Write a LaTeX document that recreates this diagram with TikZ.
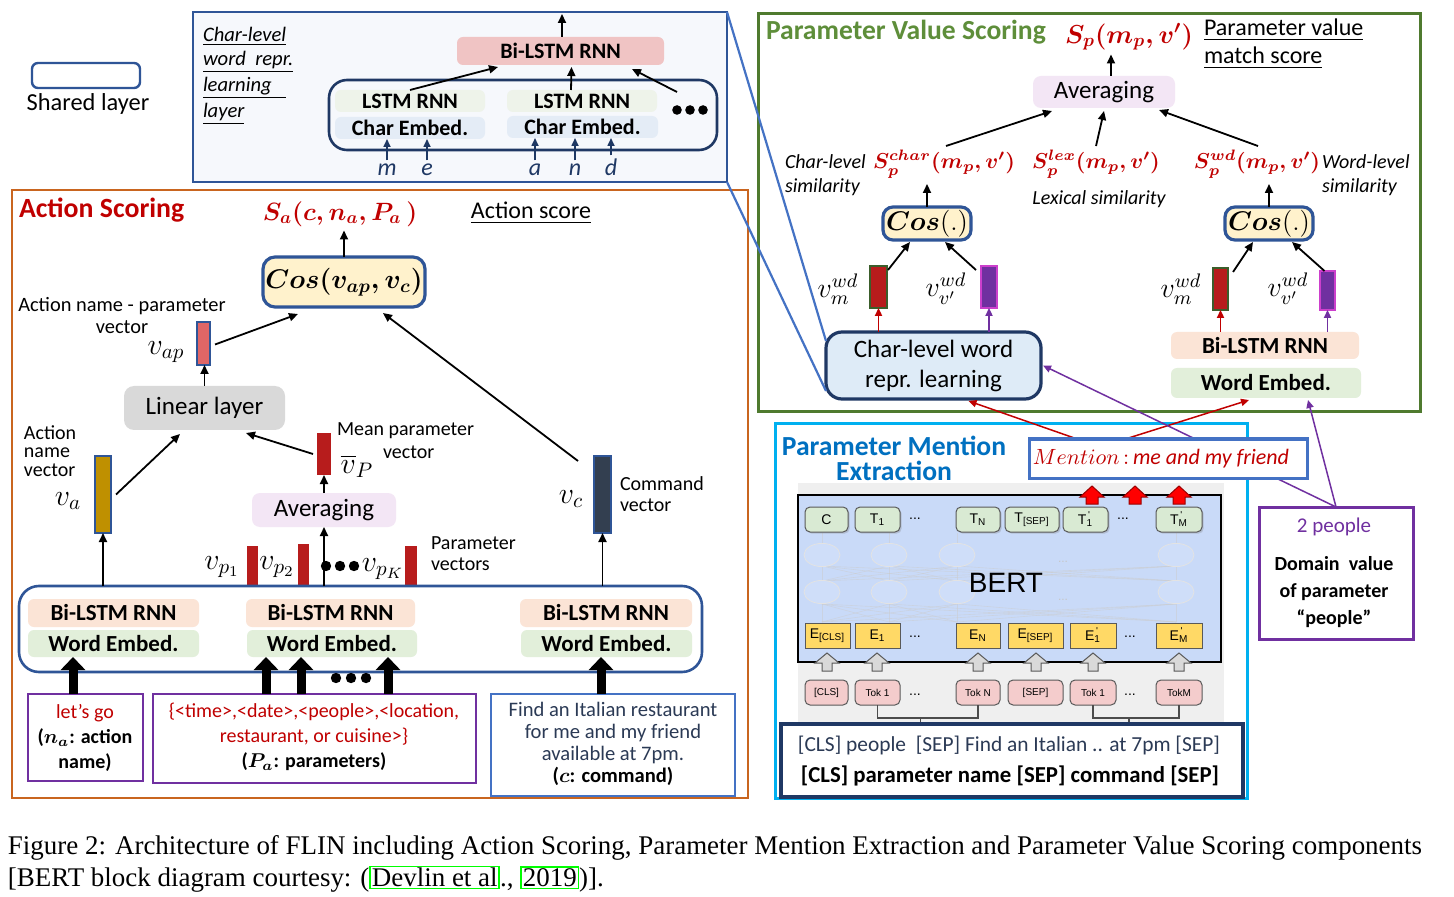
\RequirePackage{fix-cm}
\documentclass[tikz,border=0pt]{standalone}
\usepackage{amsmath}
\usepackage{graphicx}
\usepackage{fontspec}
\setmainfont{Carlito}
\newfontfamily\capfont{Liberation Serif}
\newfontfamily\arialf{Liberation Sans}
\usetikzlibrary{arrows.meta,calc,shadows}
\newcommand\fsz[2]{\fontsize{#1}{#2}\selectfont}
\newcommand\bx[7]{\node[inner sep=0pt,minimum width={(#5-#3)*0.5pt},minimum height={(#6-#4)*0.5pt},#2] (#1) at ({(#3+#5)/2},{(#4+#6)/2}) {#7};}
\definecolor{navy}{HTML}{2F5597}
\definecolor{borderdk}{HTML}{1F3864}
\definecolor{orng}{HTML}{C9651F}
\definecolor{grn}{HTML}{4F7A2F}
\definecolor{grntxt}{HTML}{5E8E3A}
\definecolor{grndk}{HTML}{3B5E2B}
\definecolor{redt}{HTML}{C00000}
\definecolor{cyanb}{HTML}{00B0F0}
\definecolor{bluet}{HTML}{0070C0}
\definecolor{purp}{HTML}{7030A0}
\definecolor{blueb}{HTML}{4472C4}
\definecolor{pinkf}{HTML}{F0C4C4}
\definecolor{lstmf}{HTML}{EEF3EA}
\definecolor{charf}{HTML}{E4ECF6}
\definecolor{peachf}{HTML}{FBE4D6}
\definecolor{wordf}{HTML}{E2EFDA}
\definecolor{lavf}{HTML}{F3E6F5}
\definecolor{grayf}{HTML}{D9D9D9}
\definecolor{yellowf}{HTML}{FFF2CC}
\definecolor{lbluef}{HTML}{DEEBF7}
\definecolor{bertf}{HTML}{C9DAF8}
\definecolor{bertbg}{HTML}{EFEFEF}
\definecolor{tokg}{HTML}{D9EAD3}
\definecolor{toky}{HTML}{FFD966}
\definecolor{tokp}{HTML}{F4CCCC}
\definecolor{goldf}{HTML}{BF9000}
\definecolor{salmon}{HTML}{E06666}
\definecolor{barred}{HTML}{B71C1C}
\definecolor{cmdf}{HTML}{333F50}
\definecolor{magb}{HTML}{CC3FCC}
\definecolor{linkgreen}{HTML}{00FF00}
\definecolor{cmdtxt}{HTML}{2B3A55}
\definecolor{boxbg}{HTML}{F6F8FC}
\tikzset{
 lyr/.style={rounded corners=3pt,font=\bfseries\fsz{11.5}{12}},
 bilstm/.style={lyr,fill=peachf},
 wemb/.style={lyr,fill=wordf},
 lstmbox/.style={lyr,fill=lstmf,font=\bfseries\fsz{11}{12}},
 cemb/.style={lyr,fill=charf,font=\bfseries\fsz{11}{12}},
 cosbox/.style={fill=yellowf,draw=navy,line width=1.6pt,rounded corners=6pt,font=\fsz{13.5}{15}},
 avgbox/.style={fill=lavf,rounded corners=4pt,font=\fsz{12.5}{14}},
 vlab/.style={font=\fsz{15}{16}},
 wlab/.style={font=\fsz{14}{15}},
 slab/.style={text=redt,font=\fsz{10.8}{14}},
 smalltxt/.style={font=\fsz{10}{11}},
 redbar/.style={fill=barred},
 vecbar/.style={draw=navy,line width=1pt},
 arr/.style={-{Triangle[length=4.5pt,width=4pt]},line width=0.9pt},
 carr/.style={-{Triangle[length=4pt,width=3.5pt]},line width=0.8pt,draw=borderdk,shorten <=2pt},
 rarr/.style={-{Triangle[length=4pt,width=3.6pt]},line width=0.75pt,draw=redt},
 parr/.style={-{Triangle[length=4pt,width=3.6pt]},line width=0.75pt,draw=purp},
 fatarr/.style={line width=4.5pt,-{Triangle[length=6.5pt,width=12pt]}},
 tok/.style={rounded corners=2.5pt,draw=gray!70!black,line width=0.5pt,font=\arialf\fsz{7}{8}},
 tokg/.style={tok,fill=tokg,drop shadow={opacity=0.3,shadow xshift=0.8pt,shadow yshift=-0.8pt}},
 toke/.style={tok,fill=toky,rounded corners=0pt},
 tokk/.style={tok,fill=tokp,font=\arialf\fsz{5}{6}},
 ghost/.style={draw=gray!22,line width=0.4pt,fill=bertf!88!white},
 ghostline/.style={draw=gray!40,line width=0.3pt,opacity=0.5},
 inbox/.style={draw=purp,line width=1.3pt},
 brk/.style={draw=gray!60!black,line width=0.6pt},
}
\setlength\fboxsep{0.4pt}
\setlength\fboxrule{0.8pt}
\newlength\capw
\begin{document}
\settowidth\capw{\capfont\fsz{13}{15}Figure 2: Architecture of FLIN including Action Scoring, Parameter Mention Extraction and Parameter Value Scoring components}%
\pgfmathsetmacro\capsc{707/\capw}%
\begin{tikzpicture}[x=0.5pt,y=-0.5pt,every node/.style={inner sep=0pt,outer sep=0pt}]
\fill[white] (0,0) rectangle (1454,897);
\useasboundingbox (0,0) rectangle (1454,897);

% ---------- legend
\bx{leg}{draw=navy,line width=1.2pt,rounded corners=3pt}{32}{63}{140}{88}{}
\node[font=\fsz{12.2}{13}] (legt) at (88,104) {Shared layer};

% ---------- action scoring
\bx{asbox}{draw=orng,line width=1.2pt}{12}{190}{748}{798}{}
\node[anchor=west,text=redt,font=\bfseries\fsz{13.9}{15}] (astitle) at (19,210) {Action Scoring};
\node[text=redt,font=\fsz{12.5}{15}] (sa) at (340,214) {$\boldsymbol{S_a(c,n_a,P_a\,)}$};
\node[font=\fsz{12}{14}] (ascore) at (531,213) {\underline{Action score}};
\bx{cosa}{cosbox}{263}{257}{425}{307}{$\boldsymbol{Cos(v_{ap},v_c)}$}
\draw[arr,shorten >=2pt] (cosa.north) -- (cosa.north |- sa.south);

\node[smalltxt,align=center,font=\fsz{10.2}{11}] (anpv) at (122,316) {Action name - parameter\\vector};
\node[vlab] (lvap) at (166,352) {$v_{ap}$};
\bx{bvap}{vecbar,fill=salmon}{197}{322}{210}{365}{}
\draw[arr] ($(bvap.east)+(5,1)$) -- ($(cosa.south west)+(35,7)$);
\bx{lin}{fill=grayf,rounded corners=5pt,font=\fsz{12.5}{14}}{124}{386}{285}{430}{Linear layer}
\draw[arr] (lin.north) -- (lin.north |- bvap.south);

\node[anchor=west,align=left,font=\fsz{10}{9.3}] (anv) at (24,451) {Action\\name\\vector};
\node[vlab] (lva) at (68,501) {$v_a$};
\bx{bva}{vecbar,fill=goldf}{95}{456}{111}{533}{}
\draw[arr] ($(bva.east)+(5,0)$) -- ($(lin.south west)+(56,4)$);

\bx{bmean}{redbar}{317}{433}{331}{475}{}
\node[anchor=west,smalltxt] (mp1) at (337,431) {Mean parameter};
\node[anchor=west,smalltxt] (mp2) at (383,452) {vector};
\node[vlab] (lvp) at (357,466) {$\overline{v}_P$};
\draw[arr] ($(bmean.west)+(-4,0)$) -- ($(lin.south east)+(-39,3)$);

\bx{avga}{avgbox}{252}{493}{396}{527}{Averaging}
\draw[arr] (avga.north) -- (avga.north |- bmean.south);

\bx{bpa}{redbar}{247}{546}{258}{587}{}
\bx{bpb}{redbar}{298}{544}{309}{587}{}
\bx{bpk}{redbar}{405}{546}{417}{587}{}
\node[vlab] (lvp1) at (222,567) {$v_{p_1}$};
\node[vlab] (lvp2) at (277,567) {$v_{p_2}$};
\node[vlab] (lvpk) at (383,569) {$v_{p_K}$};
\node[anchor=west,align=left,font=\fsz{10}{10.5}] (pvt) at (431,554) {Parameter\\vectors};

\bx{bcmd}{vecbar,fill=cmdf}{594}{456}{611}{533}{}
\node[vlab] (lvc) at (571,499) {$v_c$};
\node[anchor=west,align=left,font=\fsz{10}{10.5}] (cvt) at (620,494) {Command\\vector};
\draw[arr] ($(bcmd.north west)+(-16,5)$) -- ($(cosa.south east)+(-42,6)$);

% shared encoder
\bx{shb}{draw=navy,line width=1.3pt,rounded corners=10pt}{19}{586}{702}{672}{}
\bx{bla}{bilstm}{28}{599}{199}{627}{Bi-LSTM RNN}
\bx{wea}{wemb}{28}{630}{199}{657}{Word Embed.}
\bx{blb}{bilstm}{246}{599}{415}{627}{Bi-LSTM RNN}
\bx{web}{wemb}{247}{630}{417}{657}{Word Embed.}
\bx{blc}{bilstm}{520}{599}{692}{627}{Bi-LSTM RNN}
\bx{wec}{wemb}{521}{630}{692}{657}{Word Embed.}
\draw[arr] (shb.north -| bva.south) -- (bva.south);
\draw[arr] (shb.north -| bcmd.south) -- (bcmd.south);
\draw[arr] (shb.north -| avga.south) -- (avga.south);
\coordinate (pdots) at (340,566);
\foreach \d in {-14,0,14} \fill ($(pdots)+(\d,0)$) circle (2.6pt);

% inputs
\bx{inpa}{inbox}{28}{694}{143}{781}{}
\bx{inpb}{inbox}{153}{694}{476}{783}{}
\bx{inpc}{draw=blueb,line width=1.3pt}{491}{694}{735}{796}{}
\node[align=center,font=\fsz{10}{12.3}] (ta) at (85,738) {{\color{redt}let’s go}\\\textbf{($\boldsymbol{n_a}$: action}\\\textbf{name)}};
\node[align=center,font=\fsz{10}{12.5}] (tb) at (314,737) {{\color{redt}\{<time>,<date>,<people>,<location,}\\{\color{redt}restaurant, or cuisine>\}}\\\textbf{($\boldsymbol{P_a}$: parameters)}};
\node[align=center,font=\fsz{10.3}{11}] (tc) at (613,744) {{\color{cmdtxt}Find an Italian restaurant}\\{\color{cmdtxt}for me and my friend}\\{\color{cmdtxt}available at 7pm.}\\\textbf{($\boldsymbol{c}$: command)}};
\draw[fatarr] ($(inpa.north)+(-12.5,0)$) -- ($(wea.south)+(-40.5,0)$);
\draw[fatarr] ($(inpb.north)+(-48.5,0)$) -- ($(web.south)+(-66,0)$);
\draw[fatarr] ($(inpb.north)+(-13.5,0)$) -- ($(web.south)+(-31,0)$);
\draw[fatarr] ($(inpb.north)+(73.5,0)$) -- ($(web.south)+(56,0)$);
\draw[fatarr] ($(inpc.north)+(-12,0)$) -- ($(wec.south)+(-5.5,0)$);
\coordinate (fdots) at (351,678);
\foreach \d in {-15,0,15} \fill ($(fdots)+(\d,0)$) circle (2.6pt);

% ---------- parameter value scoring frame
\bx{pvs}{draw=grn,line width=1.5pt}{758}{14}{1420}{412}{}

% ---------- char-level callout lines and box
\bx{cbox}{draw=navy,line width=1.3pt,fill=boxbg}{193}{12}{727}{182}{}
\bx{clw}{fill=lbluef,draw=borderdk,line width=1.6pt,rounded corners=8pt,align=center,font=\fsz{12.5}{15}}{826}{332}{1041}{399}{Char-level word\\repr. learning}
\draw[blueb,line width=1.1pt] (cbox.north east) -- ($(clw.north west)+(0,9)$);
\draw[blueb,line width=1.1pt] (cbox.south east) -- ($(clw.south west)+(0,-8)$);

\node[anchor=west,font=\itshape\fsz{10.3}{11}] (cl1) at (203,36) {\underline{Char-level}};
\node[anchor=west,font=\itshape\fsz{10.3}{11}] (cl2) at (203,62) {\underline{word\ \ repr.}};
\node[anchor=west,font=\itshape\fsz{10.3}{11}] (cl3) at (203,88) {\underline{learning\ \ \ }};
\node[anchor=west,font=\itshape\fsz{10.3}{11}] (cl4) at (203,114) {\underline{layer}};
\bx{tbil}{lyr,fill=pinkf,font=\bfseries\fsz{11}{12}}{457}{37}{664}{65}{Bi-LSTM RNN}
\coordinate (tout) at (562,14);
\draw[arr] (tbil.north -| tout) -- (tout);
\bx{cin}{draw=borderdk,line width=1.3pt,rounded corners=9pt}{329}{80}{717}{150}{}
\bx{lstma}{lstmbox}{335}{90}{485}{112}{LSTM RNN}
\bx{cea}{cemb}{335}{117}{485}{139}{Char Embed.}
\bx{lstmb}{lstmbox}{507}{90}{657}{112}{LSTM RNN}
\bx{ceb}{cemb}{507}{116}{658}{138}{Char Embed.}
\coordinate (tdots) at (690,110);
\foreach \d in {-13,0,13} \fill ($(tdots)+(\d,0)$) circle (2.4pt);
\draw[arr] (lstma.north) -- ($(tbil.south west)+(41,2)$);
\draw[arr] ($(lstmb.north)+(-11,0)$) -- ($(tbil.south)+(11,2)$);
\draw[arr] ($(tdots)+(-13,-18)$) -- ($(tbil.south east)+(-32,4)$);
\foreach \n/\x/\l in {lm/387/m,le/427/e,la/535/a,ln/575/n,ld/611/d}
  \node[font=\itshape\fsz{12}{13},text=borderdk,anchor=base] (\n) at (\x,176) {\l};
\draw[carr] (lm.north |- le.north) -- (lm.north |- cea.south);
\draw[carr] (le.north) -- (le.north |- cea.south);
\draw[carr] (la.north) -- (la.north |- ceb.south);
\draw[carr] (ln.north) -- (ln.north |- ceb.south);
\draw[carr] (ld.north -| ld.base) -- (ld.base |- ceb.south);

% ---------- parameter value scoring content
\node[anchor=west,text=grntxt,font=\bfseries\fsz{13.8}{15}] (pvst) at (766,32) {Parameter Value Scoring};
\node[text=redt,font=\fsz{13}{15}] (sp) at (1129,37) {$\boldsymbol{S_p(m_p,v')}$};
\node[anchor=west,font=\fsz{12}{14}] (pvm1) at (1204,30) {\underline{Parameter value}};
\node[anchor=west,font=\fsz{12}{14}] (pvm2) at (1204,58) {\underline{match score}};
\bx{avgb}{avgbox}{1033}{76}{1175}{108}{Averaging}
\coordinate (avbt) at ($(avgb.north)+(7,0)$);
\draw[arr,shorten >=2pt] (avbt) -- (avbt |- sp.south);
\node[slab] (schar) at (944,164) {$\boldsymbol{S_p^{char}(m_p,v')}$};
\node[slab] (slex) at (1096,164) {$\boldsymbol{S_p^{lex}(m_p,v')}$};
\node[slab] (swd) at (1257,164) {$\boldsymbol{S_p^{wd}(m_p,v')}$};
\draw[arr] ($(schar.north)+(2,-4)$) -- ($(avgb.south west)+(19,3)$);
\draw[arr] ($(slex.north)+(0,-4)$) -- ($(avgb.south)+(0,3)$);
\draw[arr] ($(swd.north)+(1,-4)$) -- ($(avgb.south east)+(-16,2)$);
\node[anchor=west,align=left,font=\itshape\fsz{10}{12}] (cls) at (785,175) {Char-level\\similarity};
\node[font=\itshape\fsz{10}{12}] (lexs) at (1099,199) {Lexical similarity};
\node[anchor=west,align=left,font=\itshape\fsz{10}{12}] (wls) at (1322,175) {Word-level\\similarity};
\bx{cosb}{cosbox,rounded corners=5pt}{883}{207}{971}{240}{$\boldsymbol{Cos}(.)$}
\bx{cosc}{cosbox,rounded corners=5pt}{1225}{207}{1313}{240}{$\boldsymbol{Cos}(.)$}
\draw[arr,shorten >=3pt] (cosb.north) -- (cosb.north |- schar.south);
\draw[arr,shorten >=3pt] (cosc.north) -- (cosc.north |- swd.south);
\bx{rba}{fill=barred,draw=grndk,line width=1pt}{870}{266}{887}{308}{}
\bx{pba}{fill=purp,draw=magb,line width=1pt}{981}{266}{997}{308}{}
\bx{rbb}{fill=barred,draw=grndk,line width=1pt}{1213}{268}{1228}{310}{}
\bx{pbb}{fill=purp,draw=magb,line width=1pt}{1320}{271}{1335}{310}{}
\node[wlab] (lvma) at (838,289) {$v_m^{wd}$};
\node[wlab] (lvva) at (946,289) {$v_{v'}^{wd}$};
\node[wlab] (lvmb) at (1181,289) {$v_m^{wd}$};
\node[wlab] (lvvb) at (1288,289) {$v_{v'}^{wd}$};
\draw[arr] ($(rba.north east)+(1,4)$) -- ($(cosb.south west)+(27,2)$);
\draw[arr] ($(pba.north west)+(-5,4)$) -- ($(cosb.south east)+(-26,2)$);
\draw[arr] ($(rbb.north east)+(5,4)$) -- ($(cosc.south west)+(28,2)$);
\draw[arr] ($(pbb.north)+(-3,0)$) -- ($(cosc.south east)+(-21,2)$);
\draw[rarr] (rba.south |- clw.north) -- (rba.south);
\draw[parr] (pba.south |- clw.north) -- (pba.south);
\bx{blr}{bilstm}{1171}{332}{1359}{359}{Bi-LSTM RNN}
\bx{wer}{wemb}{1171}{368}{1361}{398}{Word Embed.}
\draw[rarr] (rbb.south |- blr.north) -- (rbb.south);
\draw[parr] (pbb.south |- blr.north) -- (pbb.south);

% ---------- parameter mention extraction
\bx{pme}{draw=cyanb,line width=1.5pt}{775}{424}{1247}{798}{}
\node[text=bluet,align=center,font=\bfseries\fsz{13.8}{12.5}] (pmet) at (894,458) {Parameter Mention\\Extraction};
\bx{dom}{draw=purp,line width=1.5pt,fill=white}{1259}{507}{1413}{639}{}
\node[text=purp,font=\fsz{10.5}{12}] (d1) at (1334,527) {2 people};
\node[align=center,font=\bfseries\fsz{10}{13.3}] (d2) at (1334,592) {Domain\ \ value\\of parameter\\“people”};
\coordinate (rap) at (1100,447);
\draw[rarr] (rap) -- ($(clw.south)+(35,2)$);
\draw[rarr] (rap) -- ($(wer.south)+(-17,2)$);
\draw[parr] (dom.north) -- ($(clw.east)+(2,0)$);
\draw[parr] (dom.north) -- ($(wer.south)+(42,2)$);
\bx{men}{fill=white,draw=blueb,line width=1.5pt}{1029}{439}{1307}{478}{}
\node[text=redt,font=\fsz{11}{12}] (ment) at (1161,459) {$Mention\,{:}\,$\textit{me and my friend}};

% BERT block
\bx{bertbgn}{fill=bertbg}{798}{483}{1224}{722}{}
\bx{bert}{fill=bertf,draw=black,line width=1.2pt}{798}{495}{1221}{662}{}
\foreach \a in {822,889,957,1176} \foreach \b in {822,889,957,1176} {
  \draw[ghostline] (\a,581) -- (\b,566);
  \draw[ghostline] (\a,622) -- (\b,604);
}
\foreach \a in {822,889,957,1176} {
  \draw[ghostline] (\a,543) -- (\a,533);
  \draw[ghost] (\a,555) ellipse [x radius=9pt,y radius=5.8pt];
  \draw[ghost] (\a,592) ellipse [x radius=9pt,y radius=5.8pt];
}
\node[text=gray!45,font=\arialf\fsz{6}{7}] (gd1) at (1063,562) {...};
\node[text=gray!45,font=\arialf\fsz{6}{7}] (gd2) at (1063,600) {...};
\node[font=\arialf\fsz{14}{16}] (bertt) at (1006,583) {BERT};
% token rows
\bx{tc0}{tokg}{805}{507}{848}{532}{C}
\bx{tc1}{tokg}{855}{507}{900}{532}{T\textsubscript{1}}
\bx{tcn}{tokg}{956}{507}{1000}{532}{T\textsubscript{N}}
\bx{tcs}{tokg}{1005}{507}{1059}{532}{T\textsubscript{[SEP]}}
\bx{tcp}{tokg}{1063}{507}{1108}{532}{T\rlap{\textsuperscript{\,'}}\textsubscript{1}}
\bx{tcm}{tokg}{1156}{507}{1202}{532}{T\rlap{\textsuperscript{\,'}}\textsubscript{M}}
\bx{ec0}{toke}{805}{623}{850}{648}{E\textsubscript{[CLS]}}
\bx{ec1}{toke}{855}{623}{900}{648}{E\textsubscript{1}}
\bx{ecn}{toke}{956}{623}{1000}{648}{E\textsubscript{N}}
\bx{ecs}{toke}{1008}{623}{1063}{648}{E\textsubscript{[SEP]}}
\bx{ecp}{toke}{1070}{623}{1116}{648}{E\rlap{\textsuperscript{\,'}}\textsubscript{1}}
\bx{ecm}{toke}{1156}{623}{1202}{648}{E\rlap{\textsuperscript{\,'}}\textsubscript{M}}
\bx{kc0}{tokk}{805}{680}{848}{705}{[CLS]}
\bx{kc1}{tokk}{855}{680}{900}{705}{Tok 1}
\bx{kcn}{tokk}{956}{680}{1000}{705}{Tok N}
\bx{kcs}{tokk}{1008}{680}{1063}{705}{[SEP]}
\bx{kcp}{tokk}{1070}{680}{1116}{705}{Tok 1}
\bx{kcm}{tokk}{1156}{680}{1202}{705}{TokM}
\foreach \n/\x/\y in {dt1/915/519,dt2/1123/519,de1/915/637,de2/1130/637,dk1/915/695,dk2/1130/695}
  \node[font=\arialf\fsz{7}{8}] (\n) at (\x,\y) {...};
\foreach \x in {827,877,978,1036,1093,1179}
  \filldraw[fill=grayf,draw=gray!70!black,line width=0.5pt] (\x-5,671) -- (\x-5,663) -- (\x-12,663) -- (\x,653) -- (\x+12,663) -- (\x+5,663) -- (\x+5,671) -- cycle;
\foreach \x in {1092,1135,1179}
  \filldraw[fill=red,draw=red!60!black,line width=0.5pt] (\x-6,504) -- (\x-6,497) -- (\x-12,497) -- (\x,486) -- (\x+12,497) -- (\x+6,497) -- (\x+6,504) -- cycle;
\draw[brk] (kc1.south) -- ($(kc1.south)+(0,13)$) -| (kcn.south);
\draw[brk] ($(kc1.south)+(43,13)$) -- ($(kc1.south)+(43,19)$);
\draw[brk] (kcp.south) -- ($(kcp.south)+(0,13)$) -| (kcm.south);
\draw[brk] ($(kcp.south)+(36,13)$) -- ($(kcp.south)+(36,19)$);
\bx{btx}{fill=white,draw=borderdk,line width=1.6pt}{781}{724}{1243}{797}{}
\node[text=cmdtxt,font=\fsz{10.7}{12}] (bt1) at (1009,745) {[CLS] people\ \ [SEP] Find an Italian .. at 7pm [SEP]};
\node[font=\bfseries\fsz{11.4}{12}] (bt2) at (1010,776) {[CLS] parameter name [SEP] command [SEP]};

% ---------- caption
\node[anchor=west] (cap1) at (8,848) {\scalebox{\capsc}{\capfont\fsz{13}{15}Figure 2: Architecture of FLIN including Action Scoring, Parameter Mention Extraction and Parameter Value Scoring components}};
\node[anchor=west] (cap2) at (8,879) {\scalebox{\capsc}{\capfont\fsz{13}{15}[BERT block diagram courtesy: (\fcolorbox{linkgreen}{white}{Devlin et al}., \fcolorbox{linkgreen}{white}{2019})].}};
\end{tikzpicture}
\end{document}
